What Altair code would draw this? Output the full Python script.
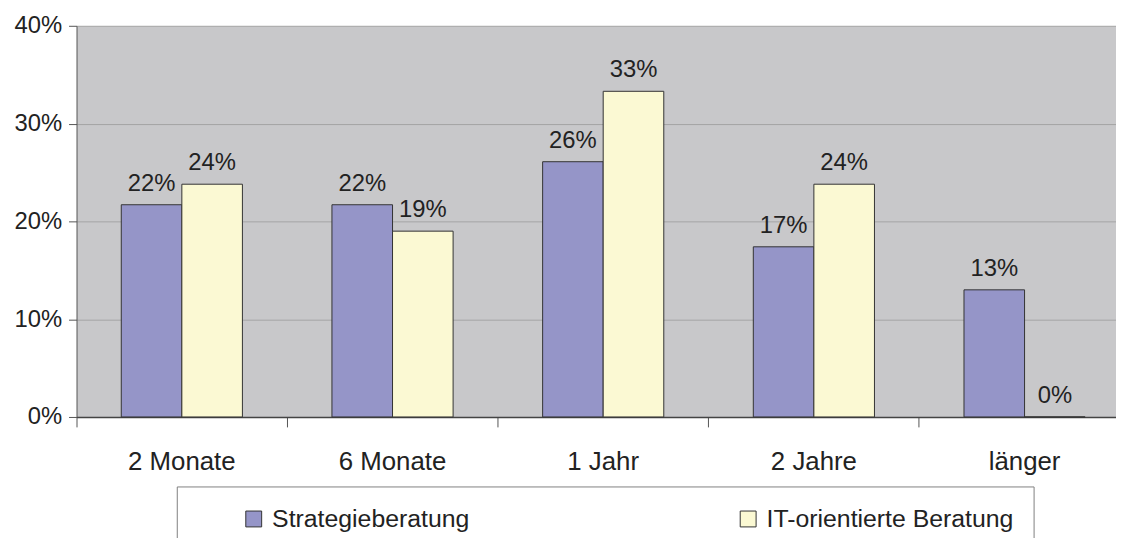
import altair as alt
import pandas as pd

categories = ["2 Monate", "6 Monate", "1 Jahr", "2 Jahre", "länger"]
series = ["Strategieberatung", "IT-orientierte Beratung"]
strategie = [0.217, 0.217, 0.261, 0.174, 0.130]
it_orient = [0.238, 0.190, 0.333, 0.238, 0.0]
colors = ["#9595C8", "#FBF9D3"]
y_ticks = [0, 0.1, 0.2, 0.3, 0.4]

rows = []
for i, c in enumerate(categories):
    rows.append({"cat": c, "serie": series[0], "val": strategie[i]})
    rows.append({"cat": c, "serie": series[1], "val": it_orient[i]})
df = pd.DataFrame(rows)

FONT = "Liberation Sans"
TXT = "#222222"

x = alt.X(
    "cat:N", sort=categories, title=None,
    scale=alt.Scale(range=[0, 1061], paddingInner=0, paddingOuter=0),
    axis=alt.Axis(bandPosition=0, labelAngle=0, tickSize=10,
                  tickColor="#555555", domainColor="#444444", domainWidth=1.5,
                  labelFontSize=26, labelFont=FONT, labelColor=TXT,
                  labelPadding=43, labelBaseline="alphabetic", grid=False),
)
y = alt.Y(
    "val:Q", title=None,
    scale=alt.Scale(domain=[0, 0.4], nice=False, zero=True),
    axis=alt.Axis(values=y_ticks, format=".0%", tickSize=8, tickColor="#555555",
                  domainColor="#555555", gridColor="#A4A4A4", labelFontSize=24,
                  labelPadding=7, labelColor=TXT, labelFont=FONT),
)
xo = alt.XOffset("serie:N", sort=series,
                 scale=alt.Scale(paddingOuter=0.739, paddingInner=0))

bars = alt.Chart(df).mark_bar(stroke="#333333", strokeWidth=1).encode(
    x=x, y=y, xOffset=xo,
    color=alt.Color(
        "serie:N", sort=series, title=None,
        scale=alt.Scale(domain=series, range=colors),
        legend=alt.Legend(orient="none", legendX=101, legendY=464,
                          direction="horizontal", columns=2, columnPadding=223,
                          padding=20, strokeColor="#808080", symbolType="square",
                          symbolSize=256, symbolStrokeColor="#333333",
                          symbolStrokeWidth=1, symbolOffset=45, labelOffset=6,
                          labelLimit=500,
                          labelFontSize=25, labelFont=FONT, labelColor=TXT),
    ),
)

labels = alt.Chart(df).mark_text(dy=-14, baseline="alphabetic", fontSize=24,
                                 font=FONT, color=TXT).encode(
    x=x, y=y, xOffset=xo,
    text=alt.Text("val:Q", format=".0%"),
)

chart = alt.layer(bars, labels).properties(
    width=1047, height=394,
    autosize=alt.AutoSizeParams(type="none"),
    padding={"left": 69, "top": 16, "right": 0, "bottom": 120},
).configure_view(fill="#C8C8CA", stroke="transparent")

chart.save("out.html", embed_options={"renderer": "svg", "actions": False})
